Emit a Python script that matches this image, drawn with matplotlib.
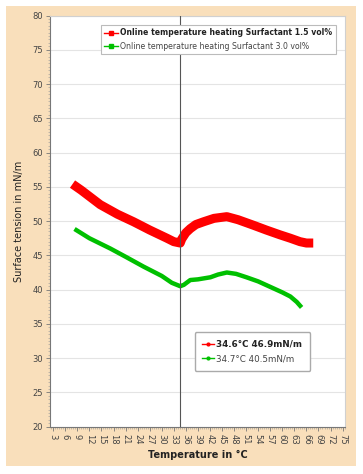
import matplotlib
matplotlib.use("Agg")
import matplotlib.pyplot as plt
from matplotlib.lines import Line2D
from matplotlib.patches import Rectangle
from matplotlib.ticker import MultipleLocator

# Surfactant 1.5 vol% (red)
t_red = [7.8, 10, 14.7, 19, 23, 27, 31.3, 33, 34.6, 35, 36, 37.1, 38.5, 40.4,
         43, 46.2, 49, 52.8, 56, 59.4, 62, 64.4, 66, 67.7]
st_red = [55.4, 54.5, 52.4, 51.0, 49.9, 48.7, 47.5, 47.0, 46.8, 47.4, 48.3, 48.9,
          49.5, 49.9, 50.4, 50.65, 50.2, 49.4, 48.7, 48.0, 47.5, 47.0, 46.8, 46.8]

# Surfactant 3.0 vol% (green)
t_green = [8.3, 12, 17.2, 21, 25.5, 30, 32.5, 34.6, 35.5, 37.1, 39, 42.1, 44,
           46.2, 48.5, 51.1, 54, 57, 60, 62, 63.6, 64.8]
st_green = [48.85, 47.5, 46.0, 44.8, 43.35, 42.0, 41.0, 40.5, 40.7, 41.4, 41.5,
            41.8, 42.2, 42.5, 42.3, 41.8, 41.2, 40.4, 39.6, 39.0, 38.2, 37.4]

cursor_t = 34.6
cursor_labels = ["34.6°C 46.9mN/m", "34.7°C 40.5mN/m"]
series_labels = ["Online temperature heating Surfactant 1.5 vol%",
                 "Online temperature heating Surfactant 3.0 vol%"]

peach = "#F9DFBB"
red = "#FF0000"
green = "#00C000"

fig = plt.figure(figsize=(3.63, 4.74), dpi=100)
fig.patch.set_facecolor("white")
bg = Rectangle((6 / 363, 1 - 466 / 474), 350 / 363, 460 / 474,
               transform=fig.transFigure, facecolor=peach, edgecolor="none", zorder=-10)
fig.patches.append(bg)

ax = fig.add_axes([50 / 363, 1 - 426.7 / 474, 295 / 363, 411.2 / 474])
ax.set_zorder(1)
ax.set_facecolor("white")

ax.plot(t_red, st_red, color=red, lw=6.5, solid_capstyle="butt", zorder=3)
ax.plot(t_green, st_green, color=green, lw=3.2, solid_capstyle="butt", zorder=3)
ax.axvline(cursor_t, color="#555555", lw=0.8, zorder=4)

ax.set_xlim(2.2, 75.6)
ax.set_ylim(20, 80)
ax.xaxis.set_major_locator(MultipleLocator(3))
ax.xaxis.set_minor_locator(MultipleLocator(0.5))
ax.yaxis.set_major_locator(MultipleLocator(5))
ax.yaxis.set_minor_locator(MultipleLocator(0.5))
ax.set_xticks(range(3, 76, 3))

ax.grid(axis="y", color="#E4E4E4", lw=0.8)
ax.set_axisbelow(True)

for side in ["top", "right"]:
    ax.spines[side].set_color("#D0D0D0")
for side in ["left", "bottom"]:
    ax.spines[side].set_color("#777777")

ax.tick_params(axis="both", which="major", length=3, width=0.6, color="#777777",
               labelsize=6, labelcolor="#444444", pad=2)
ax.tick_params(axis="both", which="minor", length=1.5, width=0.4, color="#999999")
ax.tick_params(axis="x", labelrotation=-90)

ax.set_xlabel("Temperature in °C", fontsize=7, fontweight="bold", color="#222222", labelpad=4)
ax.set_ylabel("Surface tension in mN/m", fontsize=7, color="#222222", labelpad=6)

h1 = [Line2D([], [], color=red, lw=1, marker="s", markersize=3.5),
      Line2D([], [], color=green, lw=1, marker="s", markersize=3.5)]
leg1 = ax.legend(h1, series_labels, loc="upper right", bbox_to_anchor=(0.983, 0.987),
                 fontsize=5.6, fancybox=False, edgecolor="#BBBBBB", framealpha=1,
                 handlelength=1.8, handletextpad=0.3, borderpad=0.45, labelspacing=0.6)
leg1.get_frame().set_linewidth(0.8)
leg1.get_texts()[0].set_fontweight("bold")
leg1.get_texts()[0].set_color("#222222")
leg1.get_texts()[1].set_color("#444444")
ax.add_artist(leg1)

h2 = [Line2D([], [], color=red, lw=1, marker="o", markersize=2),
      Line2D([], [], color=green, lw=1, marker="o", markersize=2)]
leg2 = ax.legend(h2, cursor_labels, loc="upper left", bbox_to_anchor=(0.475, 0.241),
                 fontsize=6.3, fancybox=True, edgecolor="#AAAAAA", framealpha=1,
                 handlelength=1.3, handletextpad=0.3, borderpad=0.9, labelspacing=0.6)
leg2.get_frame().set_linewidth(1.0)
leg2.get_texts()[0].set_fontweight("bold")
leg2.get_texts()[0].set_color("#222222")
leg2.get_texts()[1].set_color("#444444")

fig.savefig("out.png", dpi=100, facecolor=fig.get_facecolor())
